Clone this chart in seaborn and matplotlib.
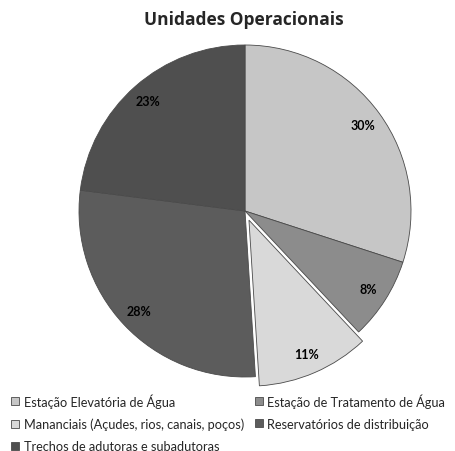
import matplotlib.pyplot as plt
import seaborn as sns

categories = [
    "Estação Elevatória de Água",
    "Estação de Tratamento de Água",
    "Mananciais (Açudes, rios, canais, poços)",
    "Reservatórios de distribuição",
    "Trechos de adutoras e subadutoras",
]
percentages = [30, 8, 11, 28, 23]
explode = [0, 0, 0.06, 0, 0]
grays = ["#c6c6c6", "#8c8c8c", "#d9d9d9", "#5c5c5c", "#4f4f4f"]


def main():
    sns.set_theme(style="white")
    plt.rcParams["font.family"] = ["Lato", "DejaVu Sans"]

    fig = plt.figure(figsize=(4.55, 4.52), dpi=100)
    # square box around the pie, in pixels: centre (245, 212), radius 166
    ax = fig.add_axes([79 / 455, 74 / 452, 332 / 455, 332 / 452])

    wedges, texts, autotexts = ax.pie(
        percentages,
        colors=grays,
        explode=explode,
        startangle=90,
        counterclock=False,
        autopct="%d%%",
        pctdistance=0.88,
        wedgeprops=dict(edgecolor="#4a4a4a", linewidth=0.6),
        textprops=dict(fontsize=9, fontweight="bold", color="black"),
    )
    for w in wedges:
        w.set_clip_on(False)
    ax.set_xlim(-1, 1)
    ax.set_ylim(-1, 1)
    ax.set_aspect("auto")

    fig.text(0.535, 0.955, "Unidades Operacionais", ha="center", va="center",
             fontsize=12.5, fontweight="bold", family=["Open Sans", "DejaVu Sans"])

    # legend fills row by row in the reference, matplotlib fills by column
    order = [0, 2, 4, 1, 3]
    fig.legend([wedges[i] for i in order], [categories[i] for i in order],
               loc="upper left", bbox_to_anchor=(0.025, 0.128),
               ncol=2, frameon=False, fontsize=9.2, handlelength=0.6, handleheight=0.6,
               handletextpad=0.35, columnspacing=0.9, labelspacing=0.78,
               borderaxespad=0, borderpad=0)

    fig.savefig("out.png", dpi=100)


if __name__ == "__main__":
    main()
